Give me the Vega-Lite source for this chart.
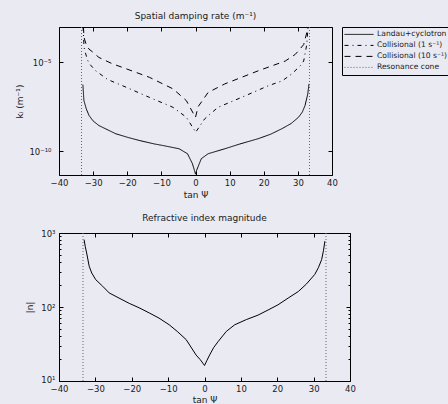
{
  "$schema": "https://vega.github.io/schema/vega-lite/v6.json",
  "background": "#eaeaf2",
  "padding": {"left": 15, "top": 11, "right": 0, "bottom": 0},
  "bounds": "flush",
  "spacing": 58,
  "datasets": {
    "curves": [
      {"series": "Landau+cyclotron", "x": -33.0, "k": 5.62e-7},
      {"series": "Landau+cyclotron", "x": -32.7, "k": 7.08e-8},
      {"series": "Landau+cyclotron", "x": -32.0, "k": 2.40e-8},
      {"series": "Landau+cyclotron", "x": -31.2, "k": 1.02e-8},
      {"series": "Landau+cyclotron", "x": -30.0, "k": 5.01e-9},
      {"series": "Landau+cyclotron", "x": -28.3, "k": 2.75e-9},
      {"series": "Landau+cyclotron", "x": -23.4, "k": 9.55e-10},
      {"series": "Landau+cyclotron", "x": -20.0, "k": 6.03e-10},
      {"series": "Landau+cyclotron", "x": -16.5, "k": 3.98e-10},
      {"series": "Landau+cyclotron", "x": -12.0, "k": 2.51e-10},
      {"series": "Landau+cyclotron", "x": -9.7, "k": 2.09e-10},
      {"series": "Landau+cyclotron", "x": -4.8, "k": 1.35e-10},
      {"series": "Landau+cyclotron", "x": -2.35, "k": 7.08e-11},
      {"series": "Landau+cyclotron", "x": -0.9, "k": 1.95e-11},
      {"series": "Landau+cyclotron", "x": -0.3, "k": 7.94e-12},
      {"series": "Landau+cyclotron", "x": 0.0, "k": 5.01e-12},
      {"series": "Landau+cyclotron", "x": 0.3, "k": 7.94e-12},
      {"series": "Landau+cyclotron", "x": 1.7, "k": 3.72e-11},
      {"series": "Landau+cyclotron", "x": 3.7, "k": 7.08e-11},
      {"series": "Landau+cyclotron", "x": 8.6, "k": 1.35e-10},
      {"series": "Landau+cyclotron", "x": 13.0, "k": 2.51e-10},
      {"series": "Landau+cyclotron", "x": 18.4, "k": 5.01e-10},
      {"series": "Landau+cyclotron", "x": 22.0, "k": 8.91e-10},
      {"series": "Landau+cyclotron", "x": 25.3, "k": 1.82e-9},
      {"series": "Landau+cyclotron", "x": 28.0, "k": 3.55e-9},
      {"series": "Landau+cyclotron", "x": 30.2, "k": 8.13e-9},
      {"series": "Landau+cyclotron", "x": 31.3, "k": 1.58e-8},
      {"series": "Landau+cyclotron", "x": 32.1, "k": 3.72e-8},
      {"series": "Landau+cyclotron", "x": 32.9, "k": 1.66e-7},
      {"series": "Landau+cyclotron", "x": 33.25, "k": 6.17e-7},

      {"series": "Collisional (1 s⁻¹)", "x": -32.95, "k": 1.0e-3},
      {"series": "Collisional (1 s⁻¹)", "x": -32.65, "k": 6.76e-5},
      {"series": "Collisional (1 s⁻¹)", "x": -32.15, "k": 2.95e-5},
      {"series": "Collisional (1 s⁻¹)", "x": -31.7, "k": 1.48e-5},
      {"series": "Collisional (1 s⁻¹)", "x": -31.2, "k": 8.91e-6},
      {"series": "Collisional (1 s⁻¹)", "x": -29.2, "k": 3.31e-6},
      {"series": "Collisional (1 s⁻¹)", "x": -28.3, "k": 2.51e-6},
      {"series": "Collisional (1 s⁻¹)", "x": -25.8, "k": 1.10e-6},
      {"series": "Collisional (1 s⁻¹)", "x": -21.4, "k": 4.90e-7},
      {"series": "Collisional (1 s⁻¹)", "x": -13.5, "k": 1.07e-7},
      {"series": "Collisional (1 s⁻¹)", "x": -6.6, "k": 2.95e-8},
      {"series": "Collisional (1 s⁻¹)", "x": -2.7, "k": 8.13e-9},
      {"series": "Collisional (1 s⁻¹)", "x": -0.25, "k": 1.45e-9},
      {"series": "Collisional (1 s⁻¹)", "x": 0.0, "k": 1.12e-9},
      {"series": "Collisional (1 s⁻¹)", "x": 2.7, "k": 6.61e-9},
      {"series": "Collisional (1 s⁻¹)", "x": 6.6, "k": 2.95e-8},
      {"series": "Collisional (1 s⁻¹)", "x": 13.5, "k": 1.07e-7},
      {"series": "Collisional (1 s⁻¹)", "x": 21.4, "k": 4.90e-7},
      {"series": "Collisional (1 s⁻¹)", "x": 25.4, "k": 9.12e-7},
      {"series": "Collisional (1 s⁻¹)", "x": 28.2, "k": 2.24e-6},
      {"series": "Collisional (1 s⁻¹)", "x": 30.7, "k": 6.46e-6},
      {"series": "Collisional (1 s⁻¹)", "x": 31.7, "k": 1.20e-5},
      {"series": "Collisional (1 s⁻¹)", "x": 32.6, "k": 1.0e-4},
      {"series": "Collisional (1 s⁻¹)", "x": 32.9, "k": 6.31e-4},
      {"series": "Collisional (1 s⁻¹)", "x": 33.0, "k": 1.0e-3},

      {"series": "Collisional (10 s⁻¹)", "x": -32.85, "k": 1.0e-3},
      {"series": "Collisional (10 s⁻¹)", "x": -32.65, "k": 2.45e-4},
      {"series": "Collisional (10 s⁻¹)", "x": -32.0, "k": 1.0e-4},
      {"series": "Collisional (10 s⁻¹)", "x": -31.2, "k": 5.62e-5},
      {"series": "Collisional (10 s⁻¹)", "x": -30.2, "k": 3.98e-5},
      {"series": "Collisional (10 s⁻¹)", "x": -28.3, "k": 1.91e-5},
      {"series": "Collisional (10 s⁻¹)", "x": -24.3, "k": 8.32e-6},
      {"series": "Collisional (10 s⁻¹)", "x": -21.4, "k": 5.25e-6},
      {"series": "Collisional (10 s⁻¹)", "x": -13.5, "k": 1.45e-6},
      {"series": "Collisional (10 s⁻¹)", "x": -6.6, "k": 3.24e-7},
      {"series": "Collisional (10 s⁻¹)", "x": -2.7, "k": 7.08e-8},
      {"series": "Collisional (10 s⁻¹)", "x": 0.0, "k": 7.94e-9},
      {"series": "Collisional (10 s⁻¹)", "x": 0.75, "k": 3.16e-8},
      {"series": "Collisional (10 s⁻¹)", "x": 3.7, "k": 2.04e-7},
      {"series": "Collisional (10 s⁻¹)", "x": 8.6, "k": 6.17e-7},
      {"series": "Collisional (10 s⁻¹)", "x": 18.4, "k": 3.39e-6},
      {"series": "Collisional (10 s⁻¹)", "x": 26.3, "k": 1.20e-5},
      {"series": "Collisional (10 s⁻¹)", "x": 29.2, "k": 2.82e-5},
      {"series": "Collisional (10 s⁻¹)", "x": 30.2, "k": 4.57e-5},
      {"series": "Collisional (10 s⁻¹)", "x": 31.7, "k": 1.02e-4},
      {"series": "Collisional (10 s⁻¹)", "x": 32.6, "k": 4.68e-4},
      {"series": "Collisional (10 s⁻¹)", "x": 32.8, "k": 1.0e-3}
    ],
    "cone": [
      {"series": "Resonance cone", "x": -33.4},
      {"series": "Resonance cone", "x": 33.4}
    ],
    "n": [
      {"x": -33.1, "n": 813},
      {"x": -32.8, "n": 661},
      {"x": -32.4, "n": 537},
      {"x": -31.7, "n": 355},
      {"x": -31.0, "n": 288},
      {"x": -29.9, "n": 234},
      {"x": -28.0, "n": 191},
      {"x": -26.2, "n": 155},
      {"x": -23.5, "n": 132},
      {"x": -20.7, "n": 112},
      {"x": -18.0, "n": 97.7},
      {"x": -15.2, "n": 83.2},
      {"x": -12.5, "n": 70.8},
      {"x": -9.7, "n": 57.5},
      {"x": -7.5, "n": 46.8},
      {"x": -5.05, "n": 36.3},
      {"x": -2.3, "n": 22.4},
      {"x": -1.2, "n": 19.5},
      {"x": -0.44, "n": 17.4},
      {"x": 0.0, "n": 16.2},
      {"x": 0.7, "n": 19.1},
      {"x": 1.4, "n": 22.4},
      {"x": 2.5, "n": 28.2},
      {"x": 3.7, "n": 33.9},
      {"x": 6.0, "n": 46.8},
      {"x": 8.3, "n": 57.5},
      {"x": 11.5, "n": 67.6},
      {"x": 14.7, "n": 77.6},
      {"x": 17.5, "n": 91.2},
      {"x": 20.2, "n": 107},
      {"x": 23.0, "n": 132},
      {"x": 25.8, "n": 162},
      {"x": 28.0, "n": 204},
      {"x": 30.3, "n": 275},
      {"x": 31.3, "n": 339},
      {"x": 32.2, "n": 437},
      {"x": 32.7, "n": 575},
      {"x": 33.1, "n": 776}
    ]
  },
  "vconcat": [
    {
      "width": 273,
      "height": 148,
      "title": {"text": "Spatial damping rate (m⁻¹)", "offset": 6, "frame": "group"},
      "layer": [
        {
          "data": {"name": "curves"},
          "mark": {"type": "line", "strokeWidth": 1, "clip": true},
          "encoding": {
            "x": {
              "field": "x", "type": "quantitative",
              "scale": {"domain": [-40, 40], "nice": false, "zero": false},
              "axis": {"orient": "bottom", "values": [-40, -30, -20, -10, 0, 10, 20, 30, 40], "tickSize": -4, "labelPadding": 7, "labelFlush": false, "title": "tan Ψ", "titlePadding": 4}
            },
            "y": {
              "field": "k", "type": "quantitative",
              "scale": {"type": "log", "domain": [4.47e-12, 1e-3], "nice": false},
              "axis": {"orient": "left", "values": [1e-10, 1e-5], "labelExpr": "datum.value < 1e-7 ? '10⁻¹⁰' : '10⁻⁵'", "tickSize": -4, "labelPadding": 12, "title": "kᵢ (m⁻¹)", "titlePadding": 4}
            },
            "color": {
              "field": "series", "type": "nominal",
              "scale": {"domain": ["Landau+cyclotron", "Collisional (1 s⁻¹)", "Collisional (10 s⁻¹)", "Resonance cone"], "range": ["black", "black", "black", "#666666"]},
              "legend": {"orient": "none", "legendX": 283, "legendY": 0, "title": null}
            },
            "strokeDash": {
              "field": "series", "type": "nominal",
              "scale": {"domain": ["Landau+cyclotron", "Collisional (1 s⁻¹)", "Collisional (10 s⁻¹)", "Resonance cone"], "range": [[1, 0], [4, 4, 1, 4], [6, 5], [1, 2]]},
              "legend": {"orient": "none", "legendX": 283, "legendY": 0, "title": null}
            }
          }
        },
        {
          "data": {"name": "curves"},
          "mark": {"type": "line", "opacity": 0},
          "encoding": {
            "x": {"field": "x", "type": "quantitative", "axis": {"orient": "top", "values": [-40, -30, -20, -10, 0, 10, 20, 30, 40], "tickSize": -4, "labels": false, "title": null}},
            "y": {"field": "k", "type": "quantitative", "axis": {"orient": "right", "values": [1e-10, 1e-5], "tickSize": -4, "labels": false, "title": null}},
            "detail": {"field": "series"}
          }
        },
        {
          "data": {"name": "cone"},
          "mark": {"type": "rule", "strokeWidth": 1},
          "encoding": {
            "x": {"field": "x", "type": "quantitative", "axis": null},
            "color": {"field": "series", "type": "nominal"},
            "strokeDash": {"field": "series", "type": "nominal"}
          }
        }
      ],
      "resolve": {"axis": {"x": "independent", "y": "independent"}}
    },
    {
      "width": 291,
      "height": 148,
      "title": {"text": "Refractive index magnitude", "offset": 6, "frame": "group"},
      "layer": [
        {
          "data": {"name": "n"},
          "mark": {"type": "line", "color": "black", "strokeWidth": 1, "clip": true},
          "encoding": {
            "x": {
              "field": "x", "type": "quantitative",
              "scale": {"domain": [-40, 40], "nice": false, "zero": false},
              "axis": {"orient": "bottom", "values": [-40, -30, -20, -10, 0, 10, 20, 30, 40], "tickSize": -4, "labelPadding": 7, "labelFlush": false, "title": "tan Ψ", "titlePadding": 3}
            },
            "y": {
              "field": "n", "type": "quantitative",
              "scale": {"type": "log", "domain": [10, 1000], "nice": false},
              "axis": {"orient": "left", "values": [10, 20, 30, 40, 50, 60, 70, 80, 90, 100, 200, 300, 400, 500, 600, 700, 800, 900, 1000], "labelExpr": "datum.value == 10 ? '10¹' : datum.value == 100 ? '10²' : datum.value == 1000 ? '10³' : ''", "labelOffset": {"condition": {"test": "datum.value == 10", "value": -2}, "value": 0}, "tickSize": {"condition": {"test": "datum.value == 10 || datum.value == 100 || datum.value == 1000", "value": -4}, "value": -2}, "labelPadding": 8, "title": "|n|", "titlePadding": 6}
            }
          }
        },
        {
          "data": {"name": "n"},
          "mark": {"type": "line", "opacity": 0},
          "encoding": {
            "x": {"field": "x", "type": "quantitative", "axis": {"orient": "top", "values": [-40, -30, -20, -10, 0, 10, 20, 30, 40], "tickSize": -4, "labels": false, "title": null}},
            "y": {"field": "n", "type": "quantitative", "axis": {"orient": "right", "values": [10, 20, 30, 40, 50, 60, 70, 80, 90, 100, 200, 300, 400, 500, 600, 700, 800, 900, 1000], "tickSize": {"condition": {"test": "datum.value == 10 || datum.value == 100 || datum.value == 1000", "value": -4}, "value": -2}, "labels": false, "title": null}}
          }
        },
        {
          "data": {"name": "cone"},
          "mark": {"type": "rule", "strokeWidth": 1, "color": "#666666", "strokeDash": [1, 2]},
          "encoding": {
            "x": {"field": "x", "type": "quantitative", "axis": null}
          }
        }
      ],
      "resolve": {"axis": {"x": "independent", "y": "independent"}}
    }
  ],
  "config": {
    "font": "DejaVu Sans",
    "view": {"stroke": "black", "strokeWidth": 1},
    "axis": {"domain": false, "grid": false, "labelFontSize": 8.5, "titleFontSize": 9, "labelColor": "#1a1a1a", "titleColor": "#1a1a1a", "tickColor": "black", "titleFontWeight": "normal", "labelFont": "DejaVu Sans", "titleFont": "DejaVu Sans"},
    "title": {"fontSize": 9, "fontWeight": "normal", "color": "#1a1a1a", "font": "DejaVu Sans"},
    "legend": {"labelFont": "DejaVu Sans", "fillColor": "#eaeaf2", "strokeColor": "black", "padding": 2, "labelFontSize": 7.6, "labelColor": "#1a1a1a", "symbolType": "stroke", "symbolSize": 841, "symbolStrokeWidth": 1, "clipHeight": 10.8, "rowPadding": 0, "labelOffset": 3, "labelLimit": 200}
  }
}
